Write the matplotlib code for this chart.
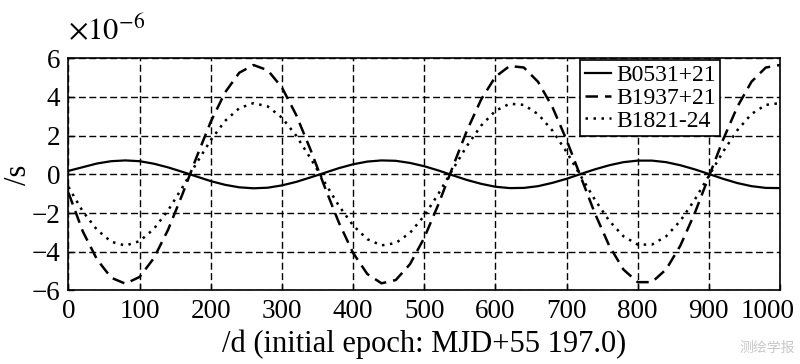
import matplotlib
matplotlib.use('Agg')
import matplotlib.pyplot as plt
import matplotlib.transforms as mtransforms
import numpy as np

plt.rcParams['font.family'] = ['Liberation Serif', 'DejaVu Serif']
plt.rcParams['mathtext.fontset'] = 'stix'

# time since initial epoch, days
days = list(range(0, 1001, 20))

# delays, in units of 1e-6 s
b0531 = [0.18, 0.37, 0.56, 0.68, 0.72, 0.68, 0.55, 0.36, 0.13, -0.11,
         -0.35, -0.54, -0.67, -0.72, -0.69, -0.57, -0.39, -0.16, 0.08, 0.32,
         0.52, 0.66, 0.72, 0.70, 0.59, 0.42, 0.20, -0.05, -0.29, -0.49,
         -0.64, -0.71, -0.70, -0.61, -0.44, -0.23, 0.02, 0.26, 0.47, 0.63,
         0.71, 0.71, 0.63, 0.47, 0.26, 0.02, -0.23, -0.45, -0.61, -0.70,
         -0.71]
b1937 = [-0.95, -2.94, -4.39, -5.34, -5.65, -5.30, -4.33, -2.86, -1.04, 0.89,
         2.72, 4.23, 5.25, 5.65, 5.38, 4.49, 3.07, 1.29, -0.64, -2.49,
         -4.06, -5.15, -5.63, -5.46, -4.64, -3.28, -1.54, 0.38, 2.26, 3.87,
         5.04, 5.60, 5.52, 4.78, 3.49, 1.78, -0.13, -2.03, -3.69, -4.92,
         -5.57, -5.57, -4.91, -3.68, -2.02, -0.12, 1.79, 3.49, 4.79, 5.52,
         5.65]
b1821 = [-0.65, -1.91, -2.86, -3.48, -3.68, -3.45, -2.82, -1.86, -0.68, 0.58,
         1.77, 2.76, 3.42, 3.68, 3.51, 2.93, 2.00, 0.84, -0.41, -1.62,
         -2.64, -3.35, -3.67, -3.55, -3.02, -2.14, -1.00, 0.25, 1.47, 2.52,
         3.28, 3.65, 3.59, 3.11, 2.27, 1.16, -0.09, -1.32, -2.40, -3.20,
         -3.63, -3.63, -3.20, -2.40, -1.32, -0.08, 1.17, 2.28, 3.12, 3.59,
         3.68]

x_ticks = list(range(0, 1001, 100))
y_ticks = [-6, -4, -2, 0, 2, 4, 6]
y_tick_labels = ['\u22126', '\u22124', '\u22122', '0', '2', '4', '6']

scale = 1e-6

fig = plt.figure(figsize=(8, 3.64), dpi=100)
ax = fig.add_axes([0.0856, 0.202, 0.8894, 0.638])

ax.plot(days, np.array(b0531) * scale, color='black', lw=1.6,
        linestyle='-', label='B0531+21')
ax.plot(days, np.array(b1937) * scale, color='black', lw=1.8,
        linestyle=(0, (5, 2.8)), label='B1937+21')
ax.plot(days, np.array(b1821) * scale, color='black', lw=1.8,
        linestyle=(0, (1, 2.2)), label='B1821-24')

ax.set_xlim(0, 1000)
ax.set_ylim(-6 * scale, 6 * scale)
ax.set_xticks(x_ticks)
ax.set_yticks(np.array(y_ticks) * scale)
ax.set_yticklabels(y_tick_labels)
# scale factor written above the axes like the original
ax.text(0.0, 1.078, r'$\times 10^{-6}$', transform=ax.transAxes,
        fontsize=22, ha='left', va='baseline')

ax.grid(True, color='black', lw=1.0, linestyle=(0, (5, 2.5)))
ax.tick_params(direction='in', length=4, width=1, labelsize=19.5, pad=6)
for sp in ax.spines.values():
    sp.set_linewidth(1.2)

# last x label sits a little left so it stays inside the figure
last = ax.get_xticklabels()[-1]
last.set_transform(last.get_transform() +
                   mtransforms.ScaledTranslation(-12 / 100, 0, fig.dpi_scale_trans))

ax.set_xlabel('/d (initial epoch: MJD+55 197.0)', fontsize=22, labelpad=4)
ax.set_ylabel('/s', fontsize=22)
ax.yaxis.set_label_coords(-0.05, 0.5)

leg = ax.legend(loc='upper right', bbox_to_anchor=(0.916, 0.993),
                borderaxespad=0, fontsize=17, fancybox=False, framealpha=1,
                edgecolor='black', handlelength=1.1, handletextpad=0.2,
                labelspacing=0.05, borderpad=0.2)
leg.get_frame().set_linewidth(1.2)

fig.text(0.994, 0.025, '测绘学报', fontsize=10, color='#c8c8c8',
         ha='right', va='bottom', family=['Noto Sans CJK SC', 'DejaVu Sans'])

fig.savefig('out.png', dpi=100)
